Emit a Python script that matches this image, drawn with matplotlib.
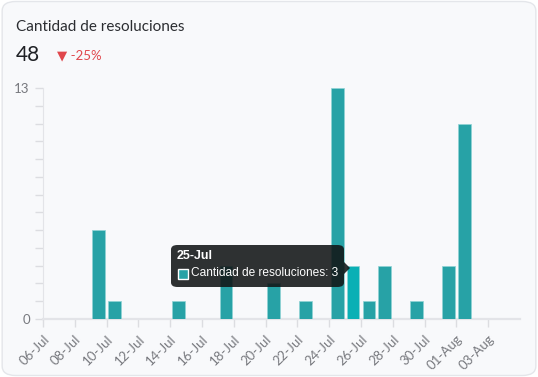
import datetime as dt
import matplotlib
matplotlib.use("Agg")
import matplotlib.pyplot as plt
import matplotlib.dates as mdates
from matplotlib.patches import FancyBboxPatch, Polygon

# data
days = ["2024-07-09", "2024-07-10", "2024-07-14", "2024-07-17", "2024-07-20",
        "2024-07-22", "2024-07-24", "2024-07-25", "2024-07-26", "2024-07-27",
        "2024-07-29", "2024-07-31", "2024-08-01"]
counts = [5, 1, 1, 3, 2, 1, 13, 3, 1, 3, 1, 3, 11]
highlight = "2024-07-25"
title = "Cantidad de resoluciones"
total = "48"
change = "\u25BC -25%"
x_start = "2024-07-06"
x_end = "2024-08-05"

dates = [dt.datetime.strptime(d, "%Y-%m-%d") for d in days]
bar_col = "#27a2a6"
hi_col = "#0ab0b5"
colors = [hi_col if d == highlight else bar_col for d in days]

fig = plt.figure(figsize=(5.38, 3.77), dpi=100)
fig.patch.set_facecolor("white")
card = FancyBboxPatch((0.004, 0.004), 0.992, 0.992, boxstyle="round,pad=0,rounding_size=0.025",
                      transform=fig.transFigure, facecolor="#f8f9fb", edgecolor="#e4e6ea",
                      linewidth=1, zorder=-5)
fig.patches.append(card)

fig.text(0.03, 0.928, title, fontsize=11, color="#2b2d31", family="Lato", va="center")
fig.text(0.03, 0.855, total, fontsize=15, color="#1f2125", family="Lato", va="center")
fig.text(0.106, 0.853, change, fontsize=9.5, color="#e0474c",
         family=["Lato", "DejaVu Sans"], va="center")

ax = fig.add_axes([0.08, 0.1538, 0.8865, 0.6128])
ax.set_facecolor("none")
ax.bar([d + dt.timedelta(hours=12) for d in dates], counts, width=0.8,
       color=colors, edgecolor="#8fd3d5", linewidth=0.5, zorder=3)

ax.set_xlim(dt.datetime.strptime(x_start, "%Y-%m-%d"), dt.datetime.strptime(x_end, "%Y-%m-%d"))
ax.set_ylim(0, 13)
ticks = [dt.datetime.strptime(x_start, "%Y-%m-%d") + dt.timedelta(days=2 * i) for i in range(15)]
ax.set_xticks(ticks)
ax.xaxis.set_major_formatter(mdates.DateFormatter("%d-%b"))
ax.set_yticks(range(14))
ax.set_yticklabels(["0"] + [""] * 12 + ["13"])
for s in ["top", "right"]:
    ax.spines[s].set_visible(False)
ax.spines["left"].set_color("#e3e4e8")
ax.spines["bottom"].set_color("#e3e4e8")
ax.spines["bottom"].set_linewidth(1.6)
ax.tick_params(axis="both", colors="#dcdde1", labelcolor="#77797e", length=6, width=1,
               labelsize=9.5)
ax.tick_params(axis="x", pad=4)
for lab in ax.get_xticklabels():
    lab.set_rotation(45)
    lab.set_ha("right")
    lab.set_rotation_mode("anchor")
    lab.set_family("Lato")
for lab in ax.get_yticklabels():
    lab.set_family("Lato")

# tooltip
tip = FancyBboxPatch((171 / 538, 1 - 287 / 377), 173 / 538, 42 / 377,
                     boxstyle="round,pad=0,rounding_size=0.012", transform=fig.transFigure,
                     facecolor="#121516", alpha=0.88, edgecolor="none", zorder=10)
fig.patches.append(tip)
arrow = Polygon([(344 / 538, 1 - 262 / 377), (350 / 538, 1 - 268 / 377), (344 / 538, 1 - 274 / 377)],
                closed=True, transform=fig.transFigure, facecolor="#121516", alpha=0.88,
                edgecolor="none", zorder=10)
fig.patches.append(arrow)
fig.text(177 / 538, 1 - 256 / 377, "25-Jul", fontsize=9, color="white", weight="bold",
         family="Liberation Sans", va="center", zorder=11)
sq = FancyBboxPatch((178 / 538, 1 - 279 / 377), 10 / 538, 10 / 377, boxstyle="square,pad=0",
                    transform=fig.transFigure, facecolor=bar_col, edgecolor="white",
                    linewidth=1, zorder=11)
fig.patches.append(sq)
fig.text(191 / 538, 1 - 273.5 / 377, "Cantidad de resoluciones: 3", fontsize=8.6,
         color="white", family="Liberation Sans", va="center", zorder=11)

fig.savefig("out.png", dpi=100)
